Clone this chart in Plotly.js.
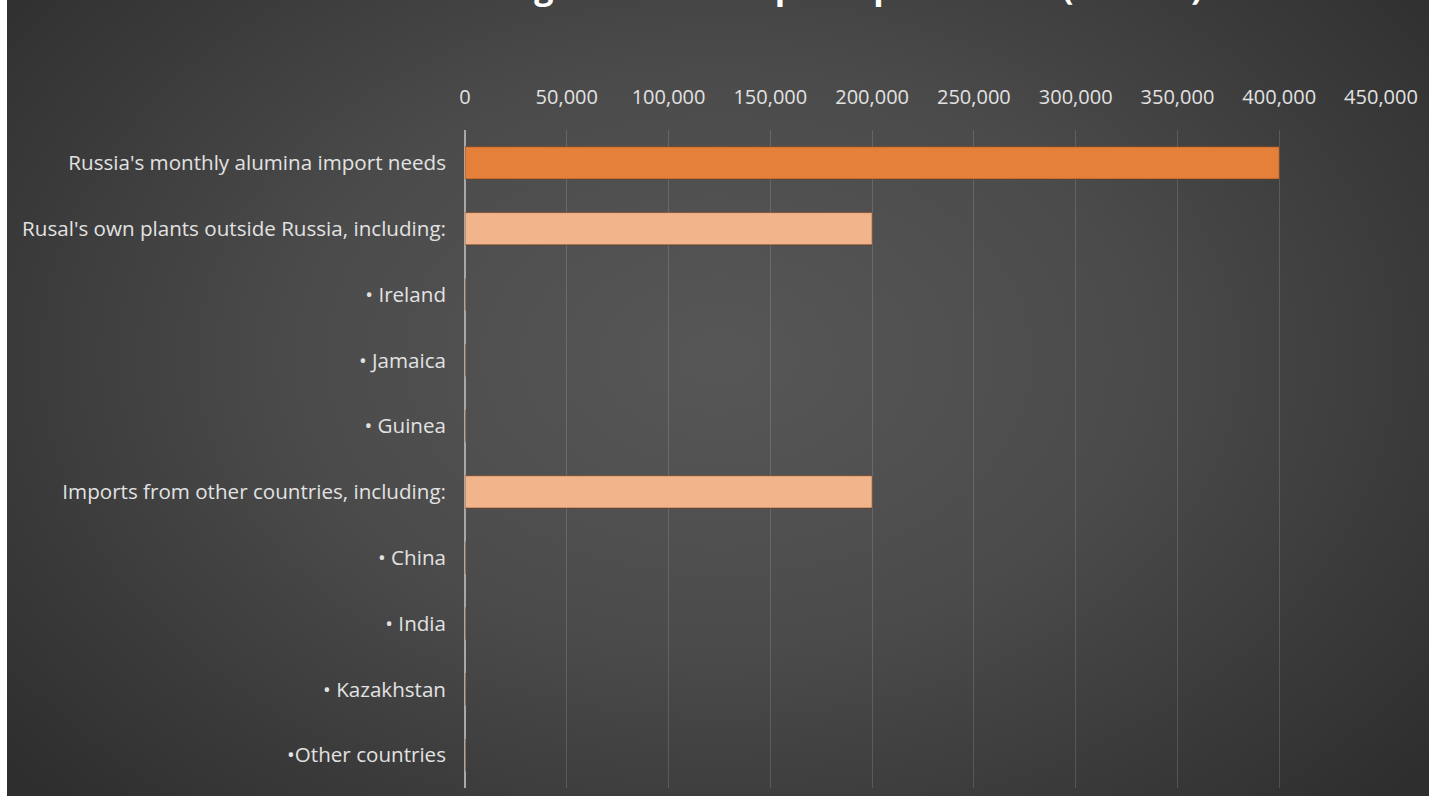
<!DOCTYPE html>
<html>
<head>
<meta charset="utf-8">
<script src="https://cdn.plot.ly/plotly-3.0.1.min.js"></script>
<style>
  html, body { margin: 0; padding: 0; background: #ffffff; width: 1429px; height: 796px; overflow: hidden; }
  #chart {
    position: absolute; left: 7px; top: 0; width: 1422px; height: 796px;
    background: radial-gradient(ellipse 65% 80% at 50% 45%, #575757 0%, #4b4b4b 45%, #3b3b3b 75%, #2e2e2e 100%);
  }
</style>
</head>
<body>
<div id="chart"></div>
<script>
// ---- data ----
const titleText = "Russia's average alumina imports per month (tonnes)";
const categories = [
  "Russia's monthly alumina import needs",
  "Rusal's own plants outside Russia, including:",
  "• Ireland",
  "• Jamaica",
  "• Guinea",
  "Imports from other countries, including:",
  "• China",
  "• India",
  "• Kazakhstan",
  "•Other countries"
];
const tonnes = [400000, 200000, 0, 0, 0, 200000, 0, 0, 0, 0];
const xTicks = [0, 50000, 100000, 150000, 200000, 250000, 300000, 350000, 400000, 450000];

// ---- styles ----
const barColors = ['#E5803A', '#F2B48A', '#F2B48A', '#F2B48A', '#F2B48A', '#F2B48A', '#F2B48A', '#F2B48A', '#F2B48A', '#F2B48A'];
const xFont = { family: "'Open Sans', 'Noto Sans', sans-serif", size: 20, color: '#e2e2e2' };
const yFont = { family: "'Open Sans', 'Noto Sans', sans-serif", size: 20.6, color: '#e2e2e2' };

const trace = {
  type: 'bar',
  orientation: 'h',
  x: tonnes,
  y: categories,
  marker: { color: barColors, line: { color: 'rgba(110,55,20,0.55)', width: 1 } },
  hoverinfo: 'x+y'
};

const layout = {
  width: 1422,
  height: 796,
  margin: { l: 458, r: 48, t: 130, b: 8, pad: 0 },
  paper_bgcolor: 'rgba(0,0,0,0)',
  plot_bgcolor: 'rgba(0,0,0,0)',
  bargap: 0.51,
  showlegend: false,
  xaxis: {
    side: 'top',
    range: [0, 450000],
    tickvals: xTicks,
    tickformat: ',d',
    tickfont: xFont,
    ticks: '',
    ticklabelstandoff: 21,
    showgrid: true,
    gridcolor: 'rgba(255,255,255,0.14)',
    gridwidth: 1,
    zeroline: true,
    zerolinecolor: '#a8a8a8',
    zerolinewidth: 1.5,
    showline: false,
    fixedrange: true
  },
  yaxis: {
    autorange: 'reversed',
    type: 'category',
    tickfont: yFont,
    ticks: '',
    ticklabelstandoff: 18,
    showgrid: false,
    zeroline: false,
    showline: false,
    fixedrange: true
  },
  annotations: [{
    text: '<b>' + titleText + '</b>',
    xref: 'paper', yref: 'paper',
    x: (748 - 465) / 916, y: (788 + 14) / 658,
    xanchor: 'center', yanchor: 'middle',
    showarrow: false,
    font: { family: "'Open Sans', 'Noto Sans', sans-serif", size: 34, color: '#ffffff' }
  }]
};

Plotly.newPlot('chart', [trace], layout, { displayModeBar: false, staticPlot: true });
</script>
</body>
</html>
